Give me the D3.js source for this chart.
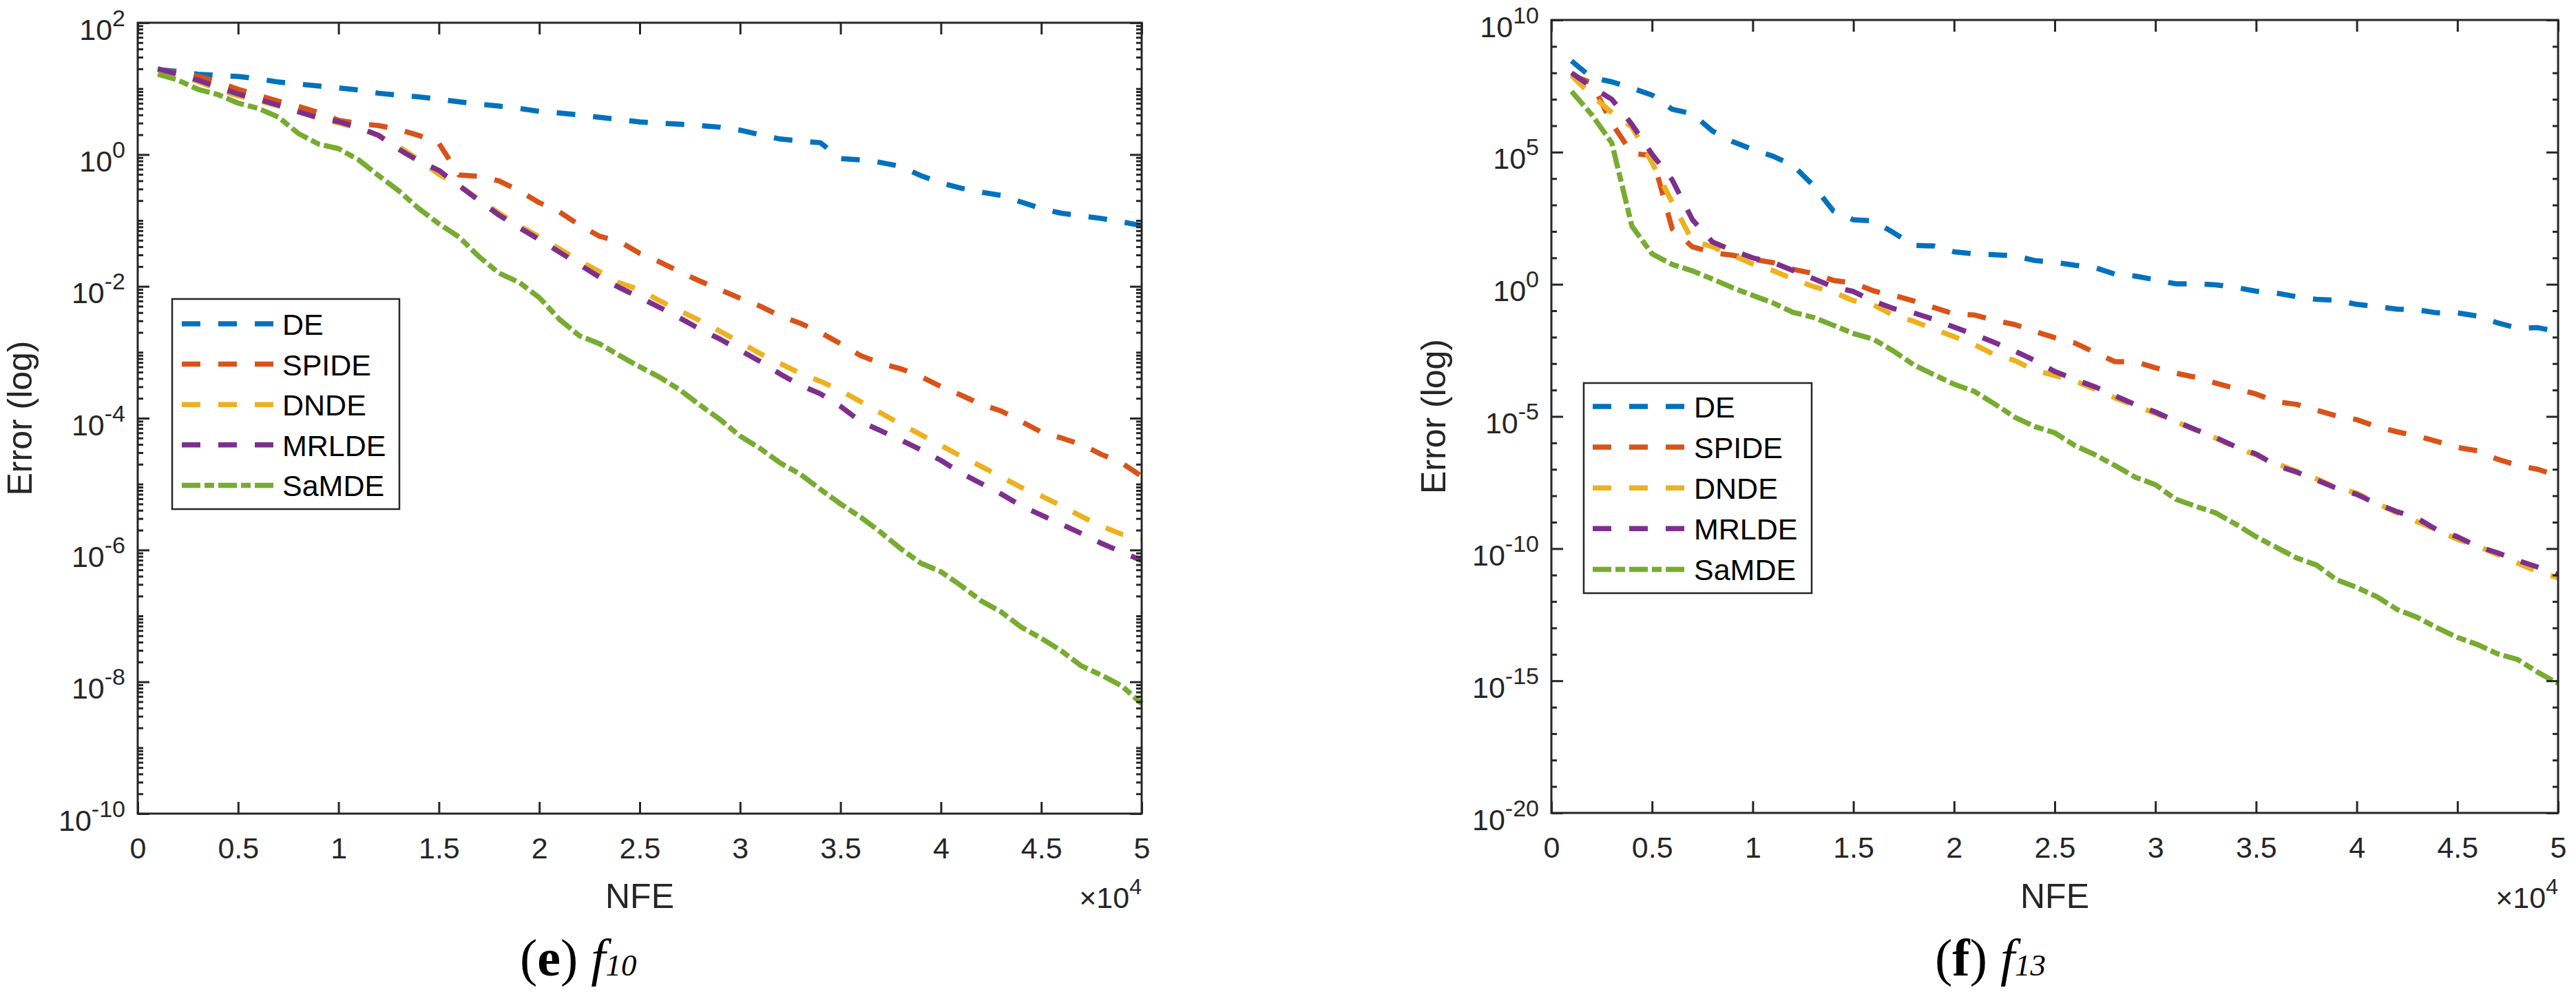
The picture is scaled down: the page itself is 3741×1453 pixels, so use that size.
<!DOCTYPE html>
<html>
<head>
<meta charset="utf-8">
<script src="https://cdn.jsdelivr.net/npm/d3@7"></script>
<style>
  html, body { margin: 0; padding: 0; background: #fff; }
  svg { display: block; }
</style>
</head>
<body>
<svg id="chart" width="3741" height="1453"></svg>
<script>
// ---------------- DATA (error values given as log10 exponents) ----------------
const nfe = [1000,2000,3000,4000,5000,6000,7000,8000,9000,10000,
             11000,12000,13000,14000,15000,16000,17000,18000,19000,20000,
             21000,22000,23000,24000,25000,26000,27000,28000,29000,30000,
             31000,32000,33000,34000,35000,36000,37000,38000,39000,40000,
             41000,42000,43000,44000,45000,46000,47000,48000,49000,50000];

const seriesNames = ["DE", "SPIDE", "DNDE", "MRLDE", "SaMDE"];

// panel (e) f10
const f10_DE    = [1.29,1.26,1.22,1.20,1.185,1.15,1.10,1.07,1.04,1.01,0.98,0.93,0.90,0.875,0.84,0.80,0.765,0.735,0.70,0.655,0.63,0.60,0.565,0.53,0.495,0.475,0.46,0.44,0.415,0.37,0.30,0.235,0.205,0.18,-0.06,-0.08,-0.12,-0.18,-0.32,-0.43,-0.51,-0.57,-0.62,-0.72,-0.82,-0.89,-0.93,-0.97,-1.02,-1.08];
const f10_SPIDE = [1.29,1.24,1.19,1.10,0.99,0.90,0.81,0.73,0.64,0.52,0.47,0.44,0.38,0.29,0.17,-0.31,-0.33,-0.40,-0.55,-0.73,-0.87,-1.07,-1.24,-1.32,-1.50,-1.63,-1.78,-1.92,-2.05,-2.18,-2.30,-2.45,-2.56,-2.70,-2.87,-3.05,-3.17,-3.25,-3.37,-3.52,-3.65,-3.79,-3.89,-4.05,-4.21,-4.30,-4.40,-4.55,-4.68,-4.88];
const f10_DNDE  = [1.29,1.21,1.11,0.99,0.89,0.82,0.74,0.65,0.55,0.48,0.40,0.29,0.12,-0.08,-0.30,-0.47,-0.68,-0.89,-1.08,-1.25,-1.43,-1.61,-1.78,-1.95,-2.05,-2.22,-2.37,-2.52,-2.68,-2.85,-3.02,-3.17,-3.32,-3.44,-3.58,-3.75,-3.92,-4.09,-4.25,-4.41,-4.58,-4.73,-4.89,-5.05,-5.18,-5.33,-5.49,-5.64,-5.76,-5.82];
const f10_MRLDE = [1.30,1.22,1.13,1.02,0.92,0.84,0.75,0.65,0.56,0.50,0.41,0.29,0.08,-0.10,-0.24,-0.47,-0.70,-0.92,-1.11,-1.29,-1.48,-1.67,-1.86,-2.02,-2.17,-2.32,-2.48,-2.65,-2.80,-2.97,-3.14,-3.33,-3.50,-3.63,-3.82,-4.05,-4.19,-4.33,-4.48,-4.64,-4.83,-4.99,-5.15,-5.33,-5.47,-5.61,-5.75,-5.90,-6.03,-6.16];
const f10_SaMDE = [1.22,1.13,0.99,0.91,0.78,0.70,0.57,0.32,0.16,0.09,-0.08,-0.32,-0.55,-0.82,-1.05,-1.25,-1.55,-1.80,-1.94,-2.17,-2.50,-2.75,-2.87,-3.05,-3.22,-3.38,-3.57,-3.80,-4.02,-4.27,-4.46,-4.68,-4.85,-5.08,-5.30,-5.50,-5.73,-5.98,-6.20,-6.33,-6.54,-6.77,-6.94,-7.17,-7.34,-7.53,-7.76,-7.90,-8.06,-8.33];

// panel (f) f13
const f13_DE    = [8.45,7.82,7.66,7.42,7.16,6.62,6.45,5.80,5.40,5.10,4.85,4.50,3.75,2.78,2.44,2.40,1.95,1.47,1.45,1.23,1.15,1.12,1.08,0.90,0.83,0.72,0.63,0.38,0.31,0.17,0.02,0.02,-0.02,-0.12,-0.26,-0.33,-0.47,-0.57,-0.60,-0.76,-0.84,-0.94,-0.97,-1.08,-1.08,-1.20,-1.46,-1.66,-1.64,-1.80];
const f13_SPIDE = [7.92,7.62,6.10,4.95,4.88,2.10,1.42,1.20,1.10,0.95,0.82,0.57,0.41,0.15,0.05,-0.25,-0.42,-0.63,-0.88,-1.12,-1.16,-1.36,-1.52,-1.78,-2.02,-2.22,-2.58,-2.93,-2.93,-3.16,-3.36,-3.52,-3.74,-3.95,-4.15,-4.44,-4.54,-4.76,-4.98,-5.12,-5.39,-5.58,-5.74,-5.95,-6.17,-6.30,-6.62,-6.85,-7.00,-7.25];
const f13_DNDE  = [7.90,7.15,6.50,5.95,4.60,3.10,1.65,1.42,1.10,0.77,0.52,0.20,-0.08,-0.30,-0.62,-0.78,-1.18,-1.40,-1.70,-1.98,-2.28,-2.66,-2.88,-3.25,-3.45,-3.66,-3.97,-4.30,-4.60,-4.88,-5.20,-5.50,-5.82,-6.18,-6.45,-6.78,-7.07,-7.36,-7.70,-7.90,-8.28,-8.65,-8.98,-9.30,-9.65,-9.90,-10.23,-10.55,-10.88,-11.10];
const f13_MRLDE = [8.00,7.47,7.00,6.05,4.92,3.95,2.45,1.60,1.28,1.00,0.83,0.52,0.22,-0.10,-0.27,-0.64,-0.92,-1.08,-1.33,-1.62,-1.90,-2.20,-2.52,-2.88,-3.30,-3.60,-3.88,-4.22,-4.55,-4.83,-5.18,-5.50,-5.80,-6.15,-6.42,-6.86,-7.10,-7.40,-7.72,-7.95,-8.30,-8.60,-8.85,-9.30,-9.55,-9.92,-10.16,-10.45,-10.70,-10.98];
const f13_SaMDE = [7.30,6.42,5.35,2.20,1.15,0.75,0.51,0.20,-0.13,-0.42,-0.70,-1.06,-1.25,-1.55,-1.86,-2.08,-2.53,-3.05,-3.42,-3.78,-4.05,-4.52,-5.02,-5.38,-5.62,-6.10,-6.45,-6.86,-7.30,-7.58,-8.13,-8.40,-8.65,-9.08,-9.55,-9.95,-10.35,-10.62,-11.18,-11.47,-11.82,-12.30,-12.60,-13.00,-13.36,-13.63,-13.98,-14.20,-14.68,-15.10];

// tick values
const xTickValues = [0,5000,10000,15000,20000,25000,30000,35000,40000,45000,50000];
const f10_yMajorExps = [2,0,-2,-4,-6,-8,-10];
const f13_yMajorExps = [10,5,0,-5,-10,-15,-20];

// ---------------- STYLE ----------------
const colors = ["#0072BD", "#D95319", "#EDB120", "#7E2F8E", "#77AC30"];
const dashes = ["27,26", "27,26", "27,26", "27,26", "27,6,14,6"];
const axisColor = "#262626";
const sansFont = "'Liberation Sans', Arial, Helvetica, sans-serif";
const serifFont = "'Liberation Serif', 'Times New Roman', serif";

const svg = d3.select("#chart");
svg.append("rect").attr("width", 3741).attr("height", 1453).attr("fill", "#fff");

function drawPanel(cfg) {
  const g = svg.append("g");
  const x = d3.scaleLinear().domain([0, 50000]).range([cfg.x0, cfg.x1]);
  const y = d3.scaleLog().domain([Math.pow(10, cfg.expMin), Math.pow(10, cfg.expMax)]).range([cfg.yb, cfg.yt]);

  // --- data lines ---
  const line = d3.line()
    .x((d, i) => x(nfe[i]))
    .y(d => y(Math.pow(10, d)));
  cfg.series.forEach((s, i) => {
    g.append("path")
      .attr("d", line(s))
      .attr("fill", "none")
      .attr("stroke", colors[i])
      .attr("stroke-width", 7.5)
      .attr("stroke-dasharray", dashes[i])
      .attr("stroke-linejoin", "round")
      .attr("stroke-linecap", "butt");
  });

  // --- minor y ticks ---
  const minorVals = [];
  for (let e = cfg.expMin; e < cfg.expMax; e++) {
    if (cfg.logSubticks) {
      for (let m = 1; m <= 9; m++) {
        const ee = e + Math.log10(m);
        if (m === 1 && cfg.majorExps.includes(e)) continue;
        minorVals.push(m * Math.pow(10, e));
      }
    } else {
      if (!cfg.majorExps.includes(e)) minorVals.push(Math.pow(10, e));
    }
  }
  const styleAxis = sel => {
    sel.select(".domain").remove();
    sel.selectAll(".tick line").attr("stroke", axisColor).attr("stroke-width", 3);
  };
  g.append("g").attr("transform", `translate(${cfg.x0},0)`)
    .call(d3.axisLeft(y).tickValues(minorVals).tickSizeInner(-8).tickSizeOuter(0).tickFormat(""))
    .call(styleAxis);
  g.append("g").attr("transform", `translate(${cfg.x1},0)`)
    .call(d3.axisRight(y).tickValues(minorVals).tickSizeInner(-8).tickSizeOuter(0).tickFormat(""))
    .call(styleAxis);

  // --- major y ticks + labels ---
  const majorVals = cfg.majorExps.map(e => Math.pow(10, e));
  const yAx = g.append("g").attr("transform", `translate(${cfg.x0},0)`)
    .call(d3.axisLeft(y).tickValues(majorVals).tickSizeInner(-17).tickSizeOuter(0).tickPadding(18).tickFormat(""))
    .call(styleAxis);
  yAx.attr("font-family", sansFont).attr("font-size", 43);
  yAx.selectAll(".tick text").each(function(d) {
    const t = d3.select(this);
    const ex = Math.round(Math.log10(d));
    t.text(null).attr("dy", 0).attr("y", 24).attr("fill", axisColor).attr("text-anchor", "end");
    t.append("tspan").text("10");
    t.append("tspan").attr("dy", -20).attr("font-size", 34).text(String(ex));
  });
  g.append("g").attr("transform", `translate(${cfg.x1},0)`)
    .call(d3.axisRight(y).tickValues(majorVals).tickSizeInner(-17).tickSizeOuter(0).tickFormat(""))
    .call(styleAxis);

  // --- x ticks + labels ---
  const xAx = g.append("g").attr("transform", `translate(0,${cfg.yb})`)
    .call(d3.axisBottom(x).tickValues(xTickValues).tickSizeInner(-17).tickSizeOuter(0).tickPadding(0)
      .tickFormat(d => d3.format("~g")(d / 1e4)))
    .call(styleAxis);
  xAx.attr("font-family", sansFont).attr("font-size", 43);
  xAx.selectAll(".tick text").attr("dy", 0).attr("y", 65).attr("fill", axisColor);
  g.append("g").attr("transform", `translate(0,${cfg.yt})`)
    .call(d3.axisTop(x).tickValues(xTickValues).tickSizeInner(-17).tickSizeOuter(0).tickFormat(""))
    .call(styleAxis);

  // --- frame ---
  g.append("rect")
    .attr("x", cfg.x0).attr("y", cfg.yt)
    .attr("width", cfg.x1 - cfg.x0).attr("height", cfg.yb - cfg.yt)
    .attr("fill", "none").attr("stroke", axisColor).attr("stroke-width", 3);

  // --- x exponent label ---
  const xm = g.append("text")
    .attr("x", cfg.x1).attr("y", 1318)
    .attr("text-anchor", "end")
    .attr("font-family", sansFont).attr("font-size", 43).attr("fill", axisColor);
  xm.append("tspan").text("\u00D710");
  xm.append("tspan").attr("dy", -20).attr("font-size", 32).text("4");

  // --- axis titles ---
  g.append("text")
    .attr("x", (cfg.x0 + cfg.x1) / 2).attr("y", 1318)
    .attr("text-anchor", "middle")
    .attr("font-family", sansFont).attr("font-size", 50).attr("fill", axisColor)
    .text("NFE");
  g.append("text")
    .attr("transform", `translate(${cfg.x0 - 154},${(cfg.yt + cfg.yb) / 2}) rotate(-90)`)
    .attr("text-anchor", "middle")
    .attr("font-family", sansFont).attr("font-size", 50).attr("fill", axisColor)
    .text("Error (log)");

  // --- legend ---
  const L = cfg.legend;
  g.append("rect")
    .attr("x", L.x).attr("y", L.y).attr("width", L.w).attr("height", L.h)
    .attr("fill", "#fff").attr("stroke", axisColor).attr("stroke-width", 2.5);
  seriesNames.forEach((name, i) => {
    const ly = L.row0 + i * L.step;
    g.append("line")
      .attr("x1", L.lx0).attr("x2", L.lx1).attr("y1", ly).attr("y2", ly)
      .attr("stroke", colors[i]).attr("stroke-width", 7.5)
      .attr("stroke-dasharray", dashes[i]);
    g.append("text")
      .attr("x", L.tx).attr("y", ly + 16)
      .attr("font-family", sansFont).attr("font-size", 43).attr("fill", "#000")
      .text(name);
  });

  // --- caption ---
  const cap = g.append("text")
    .attr("x", cfg.capX).attr("y", 1416)
    .attr("font-family", serifFont).attr("font-size", 76).attr("fill", "#000");
  cap.append("tspan").text("(");
  cap.append("tspan").attr("font-weight", "bold").text(cfg.capLetter);
  cap.append("tspan").text(")\u00A0");
  cap.append("tspan").attr("font-style", "italic").text("f");
  cap.append("tspan").attr("font-style", "italic").attr("font-size", 45).text(cfg.capSub);
}

drawPanel({
  x0: 200, x1: 1658, yt: 33, yb: 1181,
  expMin: -10, expMax: 2, majorExps: f10_yMajorExps, logSubticks: true,
  series: [f10_DE, f10_SPIDE, f10_DNDE, f10_MRLDE, f10_SaMDE],
  legend: { x: 250, y: 434, w: 330, h: 305, row0: 470, step: 58.6, lx0: 264, lx1: 399, tx: 410 },
  capX: 755, capLetter: "e", capSub: "10"
});

drawPanel({
  x0: 2253, x1: 3715, yt: 29, yb: 1180,
  expMin: -20, expMax: 10, majorExps: f13_yMajorExps, logSubticks: false,
  series: [f13_DE, f13_SPIDE, f13_DNDE, f13_MRLDE, f13_SaMDE],
  legend: { x: 2300, y: 556, w: 331, h: 305, row0: 590, step: 59.1, lx0: 2313, lx1: 2449, tx: 2460 },
  capX: 2810, capLetter: "f", capSub: "13"
});
</script>
</body>
</html>
